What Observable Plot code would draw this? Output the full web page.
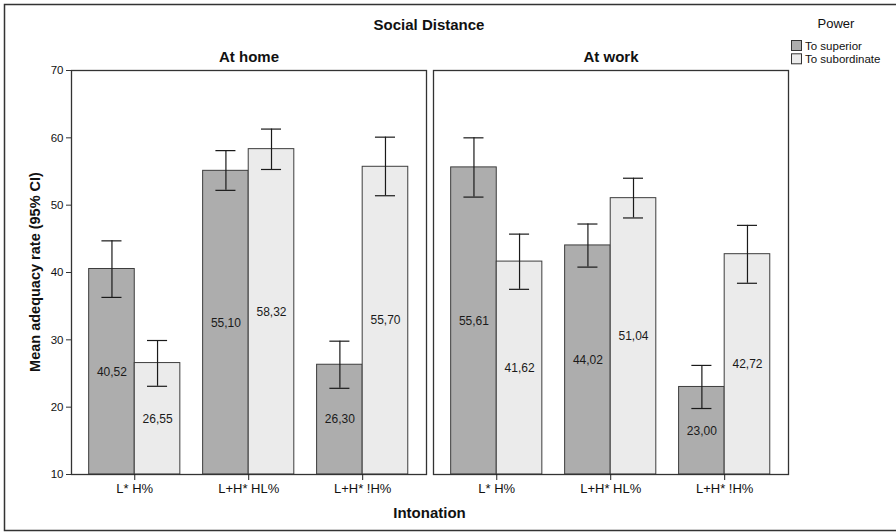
<!DOCTYPE html>
<html>
<head>
<meta charset="utf-8">
<script src="https://cdn.jsdelivr.net/npm/d3@7"></script>
<script src="https://cdn.jsdelivr.net/npm/@observablehq/plot@0.6"></script>
<style>
  html, body { margin: 0; padding: 0; background: white; overflow: hidden; }
  #chart { width: 896px; height: 532px; position: relative; overflow: hidden; }
</style>
</head>
<body>
<div id="chart"></div>
<script>
// ---- Data ----
const locations = ["At home", "At work"];
const intonations = ["L* H%", "L+H* HL%", "L+H* !H%"];
const powers = ["To superior", "To subordinate"];
const yTicks = [10, 20, 30, 40, 50, 60, 70];

const homeSuperior = [40.52, 55.10, 26.30];
const homeSuperiorLow = [36.3, 52.2, 22.8];
const homeSuperiorHigh = [44.7, 58.1, 29.8];
const homeSubordinate = [26.55, 58.32, 55.70];
const homeSubordinateLow = [23.1, 55.3, 51.4];
const homeSubordinateHigh = [29.9, 61.3, 60.1];

const workSuperior = [55.61, 44.02, 23.00];
const workSuperiorLow = [51.2, 40.8, 19.8];
const workSuperiorHigh = [60.0, 47.2, 26.2];
const workSubordinate = [41.62, 51.04, 42.72];
const workSubordinateLow = [37.5, 48.1, 38.4];
const workSubordinateHigh = [45.7, 54.0, 47.0];

const title = "Social Distance";
const yLabel = "Mean adequacy rate (95% CI)";
const xLabel = "Intonation";
const legendTitle = "Power";

// ---- Build table ----
const series = [
  ["At home", "To superior", homeSuperior, homeSuperiorLow, homeSuperiorHigh],
  ["At home", "To subordinate", homeSubordinate, homeSubordinateLow, homeSubordinateHigh],
  ["At work", "To superior", workSuperior, workSuperiorLow, workSuperiorHigh],
  ["At work", "To subordinate", workSubordinate, workSubordinateLow, workSubordinateHigh]
];
const barW = 0.4;
const capHalf = 0.088;
const rows = [];
for (const [location, power, vals, lows, highs] of series) {
  const p = powers.indexOf(power);
  intonations.forEach((intonation, i) => {
    const x1 = i + (p === 0 ? -barW : 0);
    rows.push({location, power, intonation, value: vals[i], lo: lows[i], hi: highs[i],
               x1, x2: x1 + barW, xc: x1 + barW / 2});
  });
}
const base = yTicks[0];
const fmt = v => d3.format(".2f")(v).replace(".", ",");
const font = "'Liberation Sans', Arial, Helvetica, sans-serif";

const chart = Plot.plot({
  width: 896,
  height: 532,
  marginTop: 70,
  marginBottom: 58,
  marginLeft: 71,
  marginRight: 108,
  style: {fontFamily: font, background: "white", overflow: "visible", color: "#111"},
  fx: {domain: locations, paddingInner: 7 / 362, paddingOuter: 0, axis: null, label: null},
  x: {type: "linear", domain: [-0.555, 2.56]},
  y: {domain: [yTicks[0], yTicks[yTicks.length - 1]]},
  color: {domain: powers, range: ["#adadad", "#ebebeb"]},
  marks: [
    Plot.rect(rows, {fx: "location", x1: "x1", x2: "x2", y1: () => base, y2: "value",
                     fill: "power", stroke: "#3d3d3d", strokeWidth: 1}),
    Plot.ruleX(rows, {fx: "location", x: "xc", y1: "lo", y2: "hi", stroke: "#1a1a1a", strokeWidth: 1.2}),
    Plot.ruleY(rows, {fx: "location", y: "lo", x1: d => d.xc - capHalf, x2: d => d.xc + capHalf, stroke: "#1a1a1a", strokeWidth: 1.2}),
    Plot.ruleY(rows, {fx: "location", y: "hi", x1: d => d.xc - capHalf, x2: d => d.xc + capHalf, stroke: "#1a1a1a", strokeWidth: 1.2}),
    Plot.text(rows, {fx: "location", x: "xc", y: d => (base + d.value) / 2, text: d => fmt(d.value),
                     fontSize: 12, fill: "#1a1a1a"}),
    Plot.frame({stroke: "#333", strokeWidth: 1.3}),
    Plot.text(locations, {fx: d => d, text: d => d, frameAnchor: "top", lineAnchor: "middle", dy: -13,
                          fontSize: 15, fontWeight: "bold", fill: "#111"}),
    Plot.axisY({ticks: yTicks, tickSize: 5, tickPadding: 3, fontSize: 11.5, label: null, stroke: "#333"}),
    Plot.axisX({ticks: [0, 1, 2], tickFormat: i => intonations[i], tickSize: 6, tickPadding: 3,
                fontSize: 13, label: null, stroke: "#222"})
  ]
});

document.getElementById("chart").appendChild(chart);

// ---- Extra text: title, axis labels, legend, outer border ----
const svg = d3.select(chart);
svg.append("rect")
  .attr("x", 4.5).attr("y", 4.5).attr("width", 920).attr("height", 526)
  .attr("fill", "none").attr("stroke", "#333").attr("stroke-width", 1.5);

svg.append("text").text(title)
  .attr("x", 429).attr("y", 30).attr("text-anchor", "middle")
  .attr("font-size", 15).attr("font-weight", "bold").attr("fill", "#111");

svg.append("text").text(xLabel)
  .attr("x", 429.5).attr("y", 518).attr("text-anchor", "middle")
  .attr("font-size", 15).attr("font-weight", "bold").attr("fill", "#111");

svg.append("text").text(yLabel)
  .attr("transform", "translate(40,272) rotate(-90)").attr("text-anchor", "middle")
  .attr("font-size", 14.5).attr("font-weight", "bold").attr("fill", "#111");

svg.append("text").text(legendTitle)
  .attr("x", 836).attr("y", 28).attr("text-anchor", "middle")
  .attr("font-size", 13).attr("fill", "#111");

const colorScale = chart.scale("color");
powers.forEach((p, k) => {
  svg.append("rect")
    .attr("x", 791.5).attr("y", 40.5 + k * 13.3).attr("width", 10).attr("height", 10)
    .attr("fill", colorScale.apply(p)).attr("stroke", "#333").attr("stroke-width", 1);
  svg.append("text").text(p)
    .attr("x", 805).attr("y", 49.5 + k * 13.3).attr("text-anchor", "start")
    .attr("font-size", 11.5).attr("fill", "#111");
});
</script>
</body>
</html>
